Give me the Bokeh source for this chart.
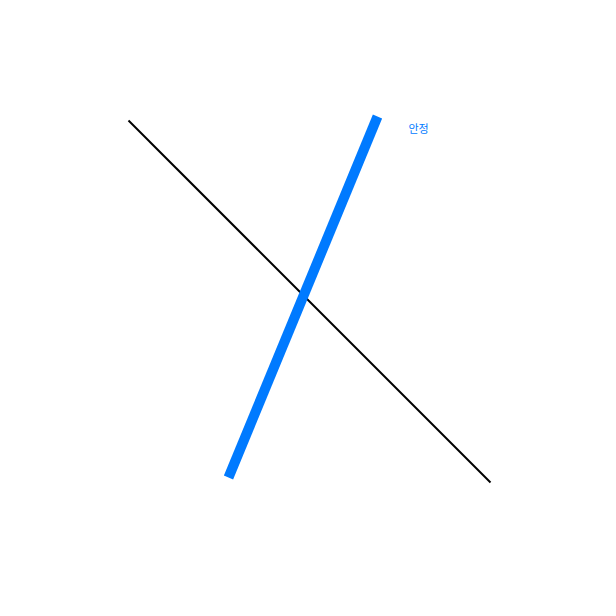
from bokeh.plotting import figure
from bokeh.models import Range1d
from bokeh.core.properties import value
from bokeh.embed import file_html
from bokeh.resources import INLINE

# data (plot units, y upward)
line_a_x = [128, 490]
line_a_y = [480, 118]
line_b_x = [228, 377]
line_b_y = [123, 484]
label_text = ["안정"]
label_x = [408]
label_y = [473]

p = figure(width=600, height=600, output_backend="svg", toolbar_location=None,
           x_range=Range1d(0, 600), y_range=Range1d(0, 600), min_border=0)
p.axis.visible = False
p.grid.visible = False
p.outline_line_color = None

p.line(line_a_x, line_a_y, line_color="black", line_width=2)
p.line(line_b_x, line_b_y, line_color="#007AFF", line_width=10, line_cap="butt")
p.text(label_x, label_y, text=label_text, text_color="#007AFF",
       text_font=value("Noto Sans CJK KR"), text_font_size="11px",
       text_align="left", text_baseline="middle")

open("out.html", "w").write(file_html(p, INLINE))
